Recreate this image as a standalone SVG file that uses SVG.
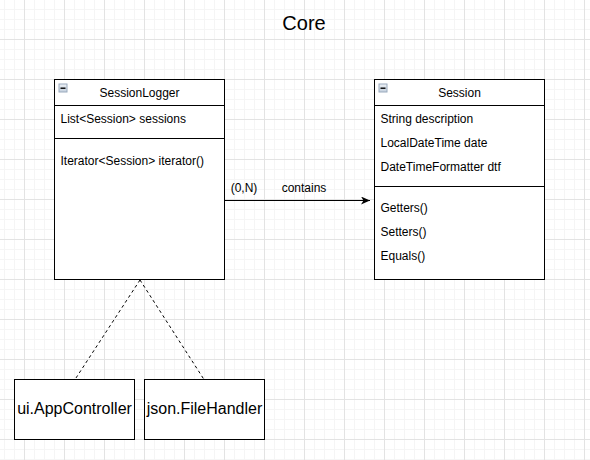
<svg xmlns="http://www.w3.org/2000/svg" width="590" height="460" viewBox="0 0 590 460">
<defs>
<pattern id="minor" x="4" y="9" width="10" height="10" patternUnits="userSpaceOnUse">
<path d="M0.5,0 V10 M0,0.5 H10" stroke="#f5f5f5" stroke-width="1" fill="none"/>
</pattern>
<pattern id="major" x="24" y="39" width="40" height="40" patternUnits="userSpaceOnUse">
<path d="M0.5,0 V40 M0,0.5 H40" stroke="#e3e3e3" stroke-width="1" fill="none"/>
</pattern>
<linearGradient id="ig" x1="0" y1="0" x2="0" y2="1">
<stop offset="0" stop-color="#eef2f7"/>
<stop offset="1" stop-color="#c3cfdd"/>
</linearGradient>
<marker id="arrow" markerWidth="10" markerHeight="8" refX="9" refY="4" orient="auto" markerUnits="userSpaceOnUse">
<path d="M0,0 L9,4 L0,8 L2.5,4 z" fill="#000"/>
</marker>
<g id="icon">
<rect x="0.5" y="0.5" width="8" height="8" fill="url(#ig)" stroke="#9aaabd" stroke-width="1"/>
<rect x="2" y="4" width="5" height="1.4" fill="#000"/>
</g>
</defs>
<style>
.box{fill:#fff;stroke:#000;stroke-width:1}
.div{stroke:#000;stroke-width:1}
.t{font-family:"Liberation Sans",Arial,Helvetica,sans-serif;font-size:12px;fill:#000}
.big{font-family:"Liberation Sans",Arial,Helvetica,sans-serif;font-size:16px;fill:#000}
.dash{stroke:#000;stroke-width:1;stroke-dasharray:3 3;fill:none}
</style>
<rect width="590" height="460" fill="#fff"/>
<rect width="590" height="460" fill="url(#minor)"/>
<rect width="590" height="460" fill="url(#major)"/>

<text x="304" y="30" text-anchor="middle" font-family="Liberation Sans, Arial, sans-serif" font-size="20" fill="#000">Core</text>

<g id="connectors">
<line x1="224.5" y1="200.5" x2="370" y2="200.5" stroke="#000" stroke-width="1" marker-end="url(#arrow)"/>
<text class="t" x="244" y="192" text-anchor="middle">(0,N)</text>
<text class="t" x="304" y="192" text-anchor="middle">contains</text>
<path class="dash" d="M140,280 L75,379.5"/>
<path class="dash" d="M140,280 L204,379.5"/>
</g>

<g id="SessionLogger">
<rect class="box" x="54.5" y="79.5" width="170" height="200"/>
<line class="div" x1="54.5" y1="105.5" x2="224.5" y2="105.5"/>
<line class="div" x1="54.5" y1="138.5" x2="224.5" y2="138.5"/>
<use href="#icon" x="58.5" y="83.5"/>
<text class="t" x="139.5" y="97" text-anchor="middle">SessionLogger</text>
<text class="t" x="60.5" y="123">List&lt;Session&gt; sessions</text>
<text class="t" x="60.5" y="165">Iterator&lt;Session&gt; iterator()</text>
</g>

<g id="Session">
<rect class="box" x="374.5" y="79.5" width="170" height="200"/>
<line class="div" x1="374.5" y1="105.5" x2="544.5" y2="105.5"/>
<line class="div" x1="374.5" y1="186.5" x2="544.5" y2="186.5"/>
<use href="#icon" x="378.5" y="83.5"/>
<text class="t" x="459.5" y="97" text-anchor="middle">Session</text>
<text class="t" x="380.5" y="123">String description</text>
<text class="t" x="380.5" y="147">LocalDateTime date</text>
<text class="t" x="380.5" y="171">DateTimeFormatter dtf</text>
<text class="t" x="380.5" y="212">Getters()</text>
<text class="t" x="380.5" y="236">Setters()</text>
<text class="t" x="380.5" y="260">Equals()</text>
</g>

<g id="AppController">
<rect class="box" x="14.5" y="379.5" width="120" height="60"/>
<text class="big" x="74.5" y="414" text-anchor="middle">ui.AppController</text>
</g>

<g id="FileHandler">
<rect class="box" x="144.5" y="379.5" width="120" height="60"/>
<text class="big" x="204.5" y="414" text-anchor="middle">json.FileHandler</text>
</g>
</svg>
